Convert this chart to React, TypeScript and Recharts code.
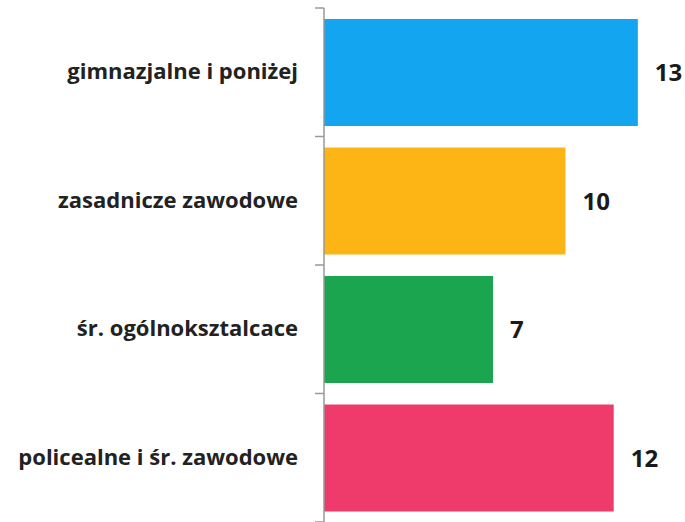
import { BarChart, Bar, XAxis, YAxis, Cell, LabelList } from 'recharts';

const categories = ['gimnazjalne i poniżej', 'zasadnicze zawodowe', 'śr. ogólnoksztalcace', 'policealne i śr. zawodowe'];
const values = [13, 10, 7, 12];
const colors = ['#14A5F0', '#FDB516', '#1BA54E', '#EF3A6C'];

const data = categories.map((name, i) => ({ name, value: values[i] }));

const FONT = "'Open Sans', Lato, sans-serif";

// Excel-style category ticks: small marks on the band boundaries, labels centred in the band
function BoundaryTick(props: any) {
  const { x, y, payload, index } = props;
  const half = payload?.offset ?? 64;
  const axisX = x + 26;
  return (
    <g>
      <line x1={axisX - 9} x2={axisX} y1={y - half} y2={y - half} stroke="#999" strokeWidth={1.5} />
      {index === categories.length - 1 && (
        <line x1={axisX - 9} x2={axisX} y1={y + half} y2={y + half} stroke="#999" strokeWidth={1.5} />
      )}
      <text x={x} y={y} dy={7} textAnchor="end" fontFamily={FONT} fontWeight={700} fontSize={22} fill="#222">
        {payload.value}
      </text>
    </g>
  );
}

export default function App() {
  return (
    <div style={{ position: 'absolute', left: 0, top: 0, width: 685, height: 522, background: '#fff' }}>
      <BarChart
        width={685}
        height={522}
        data={data}
        layout="vertical"
        margin={{ top: 8, right: 23, left: 0, bottom: 0 }}
      >
        <XAxis type="number" domain={[0, 14]} hide />
        <YAxis
          type="category"
          dataKey="name"
          width={324}
          axisLine={{ stroke: '#999', strokeWidth: 1.5 }}
          tickLine={false}
          tickSize={9}
          tickMargin={17}
          tick={<BoundaryTick />}
          interval={0}
        />
        <Bar dataKey="value" barSize={107} isAnimationActive={false}>
          {data.map((d, i) => (
            <Cell key={d.name} fill={colors[i]} />
          ))}
          <LabelList
            dataKey="value"
            position="right"
            offset={17}
            fill="#1a1a1a"
            fontFamily={FONT}
            fontWeight={700}
            fontSize={24}
          />
        </Bar>
      </BarChart>
    </div>
  );
}
